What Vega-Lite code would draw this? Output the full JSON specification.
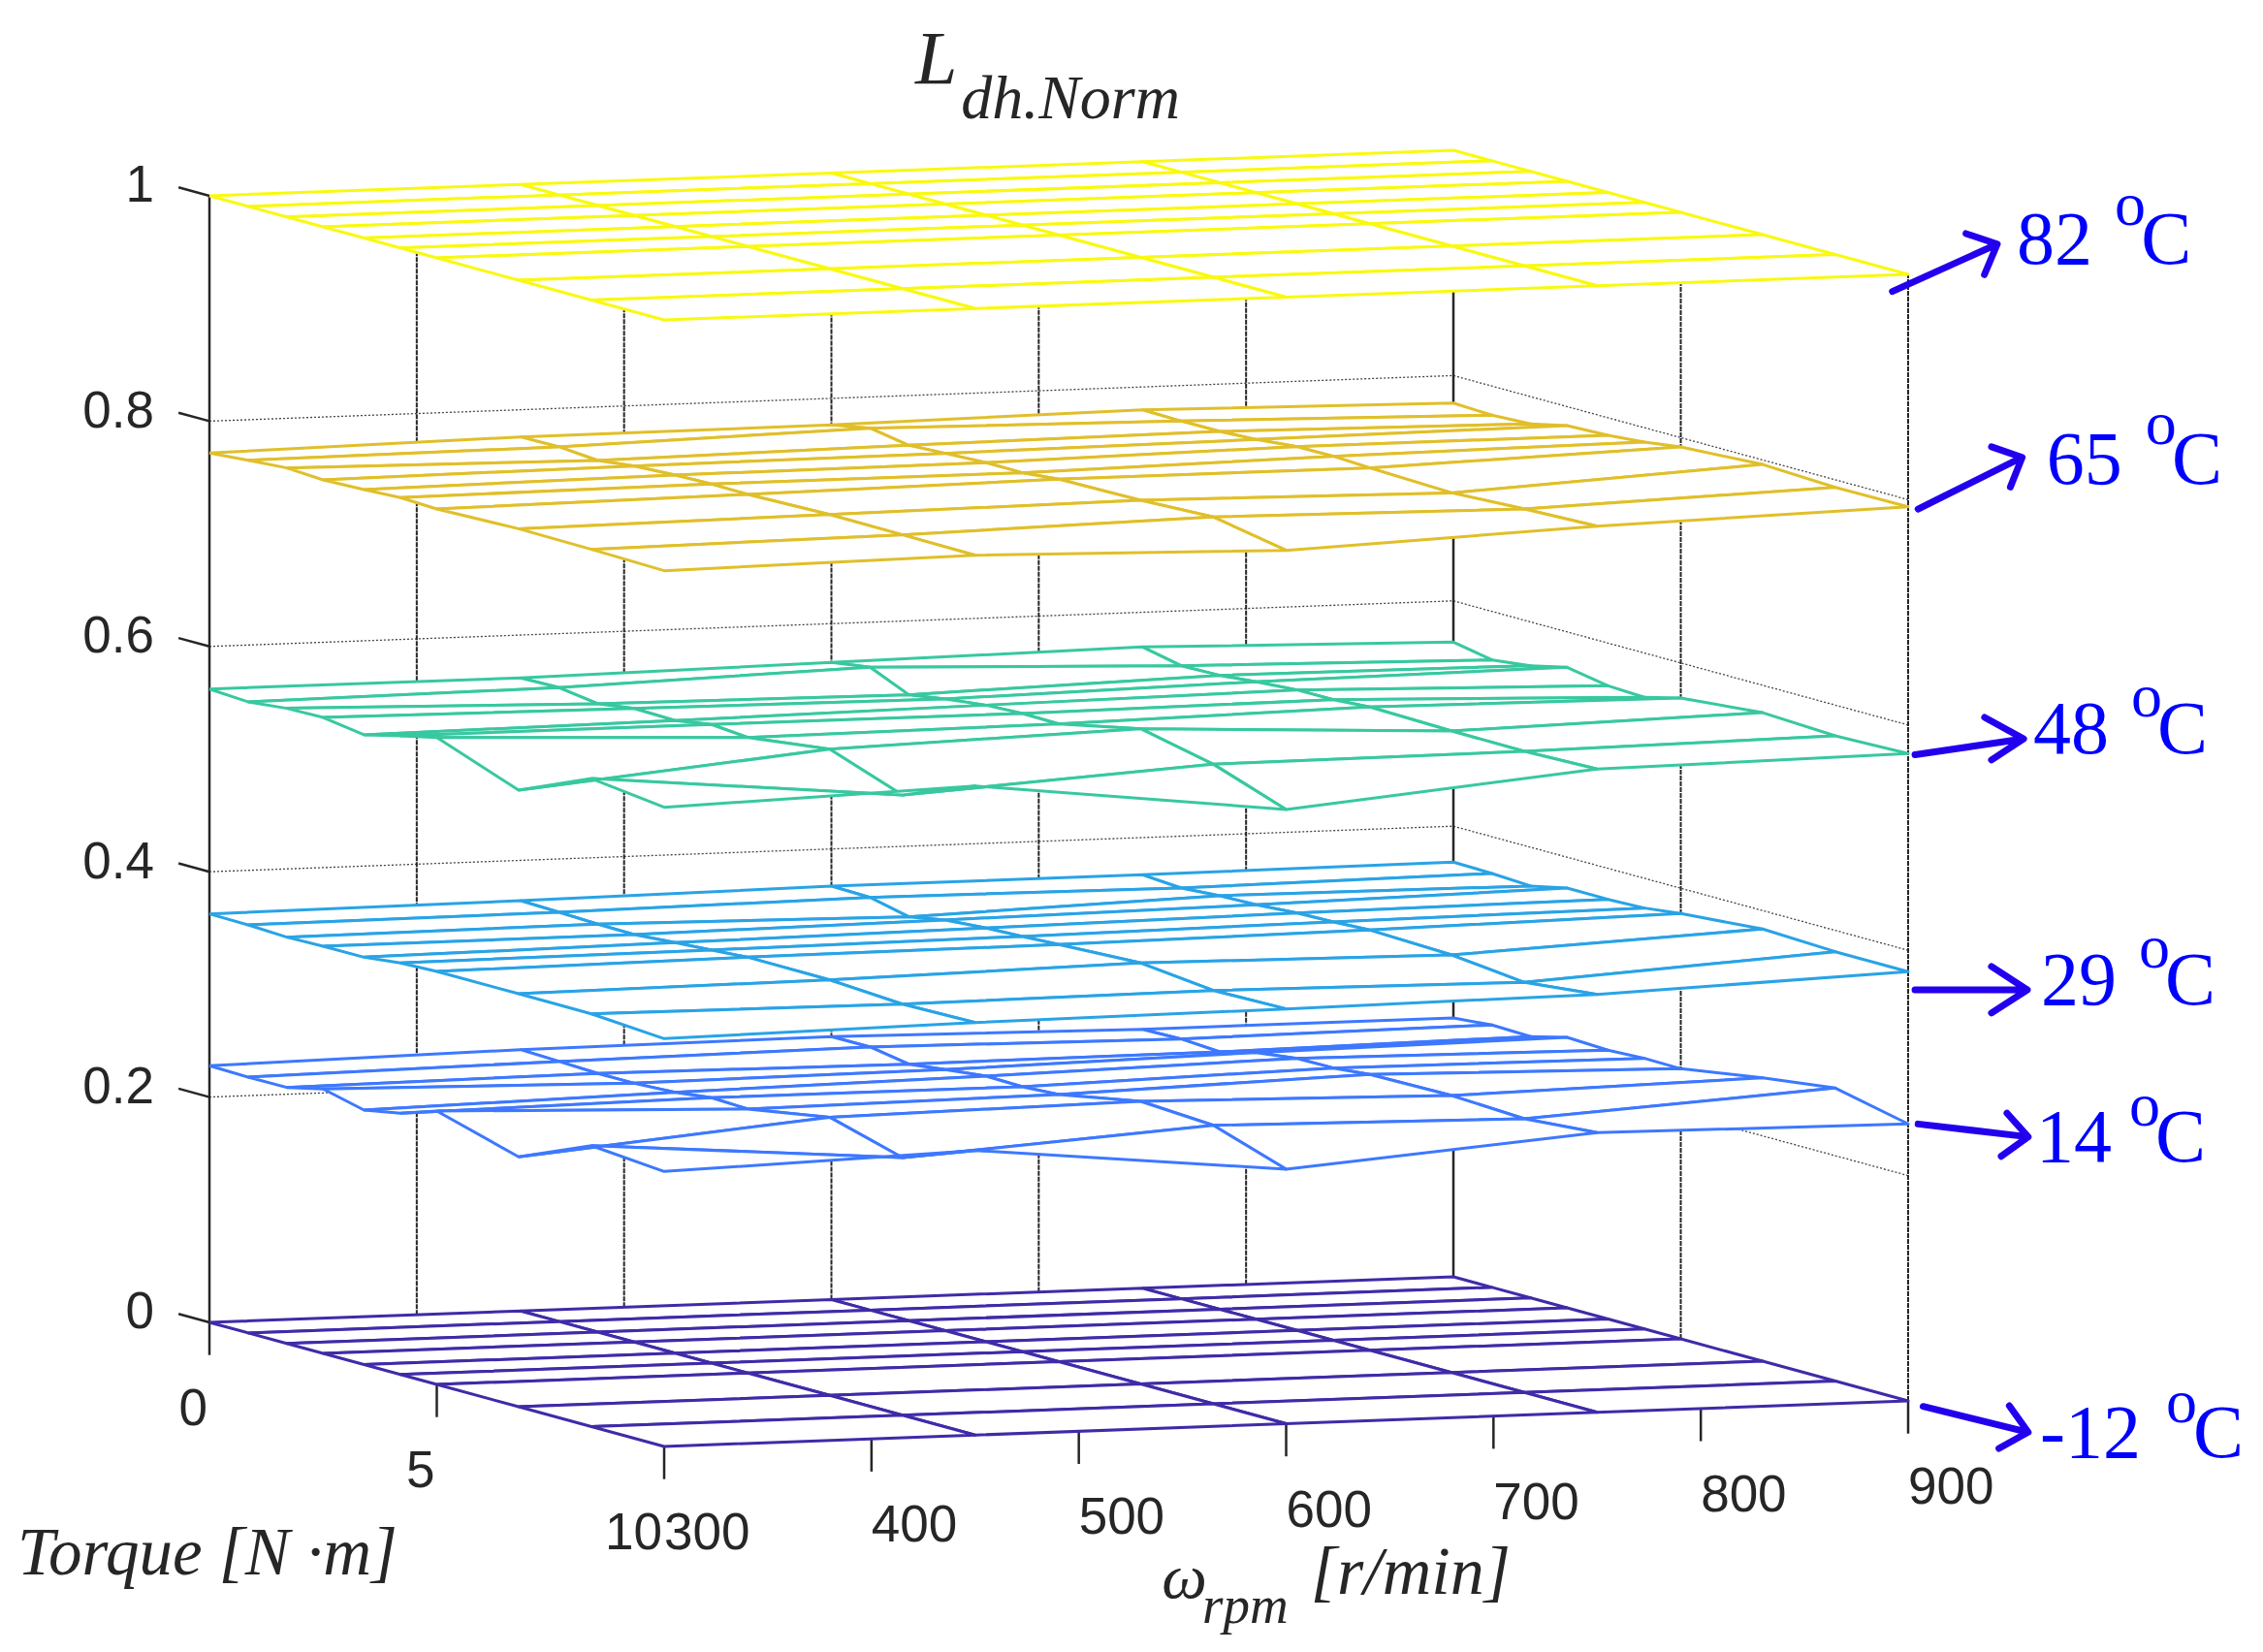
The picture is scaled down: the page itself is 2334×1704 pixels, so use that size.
{"$schema":"https://vega.github.io/schema/vega-lite/v6.json","width":2334,"height":1704,"padding":0,"autosize":{"type":"fit","contains":"padding"},"background":"white","view":{"stroke":null},
"data":{"values":[
{"kind":"mesh","temp":-12,"rpm":900,"torque":0,"L":0},{"kind":"mesh","temp":-12,"rpm":750,"torque":0,"L":0},{"kind":"mesh","temp":-12,"rpm":600,"torque":0,"L":0},{"kind":"mesh","temp":-12,"rpm":450,"torque":0,"L":0},{"kind":"mesh","temp":-12,"rpm":300,"torque":0,"L":0},
{"kind":"mesh","temp":-12,"rpm":900,"torque":0.85,"L":0},{"kind":"mesh","temp":-12,"rpm":750,"torque":0.85,"L":0},{"kind":"mesh","temp":-12,"rpm":600,"torque":0.85,"L":0},{"kind":"mesh","temp":-12,"rpm":450,"torque":0.85,"L":0},{"kind":"mesh","temp":-12,"rpm":300,"torque":0.85,"L":0},
{"kind":"mesh","temp":-12,"rpm":900,"torque":1.7,"L":0},{"kind":"mesh","temp":-12,"rpm":750,"torque":1.7,"L":0},{"kind":"mesh","temp":-12,"rpm":600,"torque":1.7,"L":0},{"kind":"mesh","temp":-12,"rpm":450,"torque":1.7,"L":0},{"kind":"mesh","temp":-12,"rpm":300,"torque":1.7,"L":0},
{"kind":"mesh","temp":-12,"rpm":900,"torque":2.5,"L":0},{"kind":"mesh","temp":-12,"rpm":750,"torque":2.5,"L":0},{"kind":"mesh","temp":-12,"rpm":600,"torque":2.5,"L":0},{"kind":"mesh","temp":-12,"rpm":450,"torque":2.5,"L":0},{"kind":"mesh","temp":-12,"rpm":300,"torque":2.5,"L":0},
{"kind":"mesh","temp":-12,"rpm":900,"torque":3.4,"L":0},{"kind":"mesh","temp":-12,"rpm":750,"torque":3.4,"L":0},{"kind":"mesh","temp":-12,"rpm":600,"torque":3.4,"L":0},{"kind":"mesh","temp":-12,"rpm":450,"torque":3.4,"L":0},{"kind":"mesh","temp":-12,"rpm":300,"torque":3.4,"L":0},
{"kind":"mesh","temp":-12,"rpm":900,"torque":4.2,"L":0},{"kind":"mesh","temp":-12,"rpm":750,"torque":4.2,"L":0},{"kind":"mesh","temp":-12,"rpm":600,"torque":4.2,"L":0},{"kind":"mesh","temp":-12,"rpm":450,"torque":4.2,"L":0},{"kind":"mesh","temp":-12,"rpm":300,"torque":4.2,"L":0},
{"kind":"mesh","temp":-12,"rpm":900,"torque":5,"L":0},{"kind":"mesh","temp":-12,"rpm":750,"torque":5,"L":0},{"kind":"mesh","temp":-12,"rpm":600,"torque":5,"L":0},{"kind":"mesh","temp":-12,"rpm":450,"torque":5,"L":0},{"kind":"mesh","temp":-12,"rpm":300,"torque":5,"L":0},
{"kind":"mesh","temp":-12,"rpm":900,"torque":6.8,"L":0},{"kind":"mesh","temp":-12,"rpm":750,"torque":6.8,"L":0},{"kind":"mesh","temp":-12,"rpm":600,"torque":6.8,"L":0},{"kind":"mesh","temp":-12,"rpm":450,"torque":6.8,"L":0},{"kind":"mesh","temp":-12,"rpm":300,"torque":6.8,"L":0},
{"kind":"mesh","temp":-12,"rpm":900,"torque":8.4,"L":0},{"kind":"mesh","temp":-12,"rpm":750,"torque":8.4,"L":0},{"kind":"mesh","temp":-12,"rpm":600,"torque":8.4,"L":0},{"kind":"mesh","temp":-12,"rpm":450,"torque":8.4,"L":0},{"kind":"mesh","temp":-12,"rpm":300,"torque":8.4,"L":0},
{"kind":"mesh","temp":-12,"rpm":900,"torque":10,"L":0},{"kind":"mesh","temp":-12,"rpm":750,"torque":10,"L":0},{"kind":"mesh","temp":-12,"rpm":600,"torque":10,"L":0},{"kind":"mesh","temp":-12,"rpm":450,"torque":10,"L":0},{"kind":"mesh","temp":-12,"rpm":300,"torque":10,"L":0},

{"kind":"mesh","temp":14,"rpm":900,"torque":0,"L":0.2298},{"kind":"mesh","temp":14,"rpm":750,"torque":0,"L":0.2298},{"kind":"mesh","temp":14,"rpm":600,"torque":0,"L":0.2334},{"kind":"mesh","temp":14,"rpm":450,"torque":0,"L":0.232},{"kind":"mesh","temp":14,"rpm":300,"torque":0,"L":0.2278},
{"kind":"mesh","temp":14,"rpm":900,"torque":0.85,"L":0.2329},{"kind":"mesh","temp":14,"rpm":750,"torque":0.85,"L":0.2306},{"kind":"mesh","temp":14,"rpm":600,"torque":0.85,"L":0.2336},{"kind":"mesh","temp":14,"rpm":450,"torque":0.85,"L":0.2308},{"kind":"mesh","temp":14,"rpm":300,"torque":0.85,"L":0.2271},
{"kind":"mesh","temp":14,"rpm":900,"torque":1.7,"L":0.2319},{"kind":"mesh","temp":14,"rpm":750,"torque":1.7,"L":0.2285},{"kind":"mesh","temp":14,"rpm":600,"torque":1.7,"L":0.2277},{"kind":"mesh","temp":14,"rpm":450,"torque":1.7,"L":0.2296},{"kind":"mesh","temp":14,"rpm":300,"torque":1.7,"L":0.2273},
{"kind":"mesh","temp":14,"rpm":900,"torque":2.5,"L":0.2401},{"kind":"mesh","temp":14,"rpm":750,"torque":2.5,"L":0.2367},{"kind":"mesh","temp":14,"rpm":600,"torque":2.5,"L":0.2317},{"kind":"mesh","temp":14,"rpm":450,"torque":2.5,"L":0.2297},{"kind":"mesh","temp":14,"rpm":300,"torque":2.5,"L":0.2347},
{"kind":"mesh","temp":14,"rpm":900,"torque":3.4,"L":0.2386},{"kind":"mesh","temp":14,"rpm":750,"torque":3.4,"L":0.2414},{"kind":"mesh","temp":14,"rpm":600,"torque":3.4,"L":0.2358},{"kind":"mesh","temp":14,"rpm":450,"torque":3.4,"L":0.2315},{"kind":"mesh","temp":14,"rpm":300,"torque":3.4,"L":0.2259},
{"kind":"mesh","temp":14,"rpm":900,"torque":4.2,"L":0.2402},{"kind":"mesh","temp":14,"rpm":750,"torque":4.2,"L":0.2417},{"kind":"mesh","temp":14,"rpm":600,"torque":4.2,"L":0.2352},{"kind":"mesh","temp":14,"rpm":450,"torque":4.2,"L":0.2356},{"kind":"mesh","temp":14,"rpm":300,"torque":4.2,"L":0.2319},
{"kind":"mesh","temp":14,"rpm":900,"torque":5,"L":0.2398},{"kind":"mesh","temp":14,"rpm":750,"torque":5,"L":0.2448},{"kind":"mesh","temp":14,"rpm":600,"torque":5,"L":0.2371},{"kind":"mesh","temp":14,"rpm":450,"torque":5,"L":0.2343},{"kind":"mesh","temp":14,"rpm":300,"torque":5,"L":0.2427},
{"kind":"mesh","temp":14,"rpm":900,"torque":6.8,"L":0.2515},{"kind":"mesh","temp":14,"rpm":750,"torque":6.8,"L":0.2459},{"kind":"mesh","temp":14,"rpm":600,"torque":6.8,"L":0.2509},{"kind":"mesh","temp":14,"rpm":450,"torque":6.8,"L":0.2469},{"kind":"mesh","temp":14,"rpm":300,"torque":6.8,"L":0.2218},
{"kind":"mesh","temp":14,"rpm":900,"torque":8.4,"L":0.2601},{"kind":"mesh","temp":14,"rpm":750,"torque":8.4,"L":0.2429},{"kind":"mesh","temp":14,"rpm":600,"torque":8.4,"L":0.2472},{"kind":"mesh","temp":14,"rpm":450,"torque":8.4,"L":0.2287},{"kind":"mesh","temp":14,"rpm":300,"torque":8.4,"L":0.2494},
{"kind":"mesh","temp":14,"rpm":900,"torque":10,"L":0.2459},{"kind":"mesh","temp":14,"rpm":750,"torque":10,"L":0.2482},{"kind":"mesh","temp":14,"rpm":600,"torque":10,"L":0.2259},{"kind":"mesh","temp":14,"rpm":450,"torque":10,"L":0.2526},{"kind":"mesh","temp":14,"rpm":300,"torque":10,"L":0.2441},

{"kind":"mesh","temp":29,"rpm":900,"torque":0,"L":0.3681},{"kind":"mesh","temp":29,"rpm":750,"torque":0,"L":0.367},{"kind":"mesh","temp":29,"rpm":600,"torque":0,"L":0.367},{"kind":"mesh","temp":29,"rpm":450,"torque":0,"L":0.3642},{"kind":"mesh","temp":29,"rpm":300,"torque":0,"L":0.3626},
{"kind":"mesh","temp":29,"rpm":900,"torque":0.85,"L":0.3674},{"kind":"mesh","temp":29,"rpm":750,"torque":0.85,"L":0.3646},{"kind":"mesh","temp":29,"rpm":600,"torque":0.85,"L":0.3663},{"kind":"mesh","temp":29,"rpm":450,"torque":0.85,"L":0.3633},{"kind":"mesh","temp":29,"rpm":300,"torque":0.85,"L":0.3622},
{"kind":"mesh","temp":29,"rpm":900,"torque":1.7,"L":0.3656},{"kind":"mesh","temp":29,"rpm":750,"torque":1.7,"L":0.3671},{"kind":"mesh","temp":29,"rpm":600,"torque":1.7,"L":0.3585},{"kind":"mesh","temp":29,"rpm":450,"torque":1.7,"L":0.3621},{"kind":"mesh","temp":29,"rpm":300,"torque":1.7,"L":0.3607},
{"kind":"mesh","temp":29,"rpm":900,"torque":2.5,"L":0.3726},{"kind":"mesh","temp":29,"rpm":750,"torque":2.5,"L":0.3679},{"kind":"mesh","temp":29,"rpm":600,"torque":2.5,"L":0.3645},{"kind":"mesh","temp":29,"rpm":450,"torque":2.5,"L":0.3617},{"kind":"mesh","temp":29,"rpm":300,"torque":2.5,"L":0.3614},
{"kind":"mesh","temp":29,"rpm":900,"torque":3.4,"L":0.3725},{"kind":"mesh","temp":29,"rpm":750,"torque":3.4,"L":0.3705},{"kind":"mesh","temp":29,"rpm":600,"torque":3.4,"L":0.3672},{"kind":"mesh","temp":29,"rpm":450,"torque":3.4,"L":0.3644},{"kind":"mesh","temp":29,"rpm":300,"torque":3.4,"L":0.3616},
{"kind":"mesh","temp":29,"rpm":900,"torque":4.2,"L":0.3736},{"kind":"mesh","temp":29,"rpm":750,"torque":4.2,"L":0.3714},{"kind":"mesh","temp":29,"rpm":600,"torque":4.2,"L":0.3686},{"kind":"mesh","temp":29,"rpm":450,"torque":4.2,"L":0.3667},{"kind":"mesh","temp":29,"rpm":300,"torque":4.2,"L":0.3653},
{"kind":"mesh","temp":29,"rpm":900,"torque":5,"L":0.3775},{"kind":"mesh","temp":29,"rpm":750,"torque":5,"L":0.373},{"kind":"mesh","temp":29,"rpm":600,"torque":5,"L":0.3702},{"kind":"mesh","temp":29,"rpm":450,"torque":5,"L":0.3691},{"kind":"mesh","temp":29,"rpm":300,"torque":5,"L":0.3666},
{"kind":"mesh","temp":29,"rpm":900,"torque":6.8,"L":0.3836},{"kind":"mesh","temp":29,"rpm":750,"torque":6.8,"L":0.3707},{"kind":"mesh","temp":29,"rpm":600,"torque":6.8,"L":0.3737},{"kind":"mesh","temp":29,"rpm":450,"torque":6.8,"L":0.3688},{"kind":"mesh","temp":29,"rpm":300,"torque":6.8,"L":0.3666},
{"kind":"mesh","temp":29,"rpm":900,"torque":8.4,"L":0.3811},{"kind":"mesh","temp":29,"rpm":750,"torque":8.4,"L":0.364},{"kind":"mesh","temp":29,"rpm":600,"torque":8.4,"L":0.3669},{"kind":"mesh","temp":29,"rpm":450,"torque":8.4,"L":0.3649},{"kind":"mesh","temp":29,"rpm":300,"torque":8.4,"L":0.3664},
{"kind":"mesh","temp":29,"rpm":900,"torque":10,"L":0.381},{"kind":"mesh","temp":29,"rpm":750,"torque":10,"L":0.371},{"kind":"mesh","temp":29,"rpm":600,"torque":10,"L":0.3682},{"kind":"mesh","temp":29,"rpm":450,"torque":10,"L":0.3662},{"kind":"mesh","temp":29,"rpm":300,"torque":10,"L":0.362},

{"kind":"mesh","temp":48,"rpm":900,"torque":0,"L":0.5634},{"kind":"mesh","temp":48,"rpm":750,"torque":0,"L":0.5692},{"kind":"mesh","temp":48,"rpm":600,"torque":0,"L":0.5656},{"kind":"mesh","temp":48,"rpm":450,"torque":0,"L":0.562},{"kind":"mesh","temp":48,"rpm":300,"torque":0,"L":0.5622},
{"kind":"mesh","temp":48,"rpm":900,"torque":0.85,"L":0.557},{"kind":"mesh","temp":48,"rpm":750,"torque":0.85,"L":0.5619},{"kind":"mesh","temp":48,"rpm":600,"torque":0.85,"L":0.5707},{"kind":"mesh","temp":48,"rpm":450,"torque":0.85,"L":0.5627},{"kind":"mesh","temp":48,"rpm":300,"torque":0.85,"L":0.5602},
{"kind":"mesh","temp":48,"rpm":900,"torque":1.7,"L":0.5612},{"kind":"mesh","temp":48,"rpm":750,"torque":1.7,"L":0.5627},{"kind":"mesh","temp":48,"rpm":600,"torque":1.7,"L":0.5556},{"kind":"mesh","temp":48,"rpm":450,"torque":1.7,"L":0.5577},{"kind":"mesh","temp":48,"rpm":300,"torque":1.7,"L":0.5638},
{"kind":"mesh","temp":48,"rpm":900,"torque":2.5,"L":0.5686},{"kind":"mesh","temp":48,"rpm":750,"torque":2.5,"L":0.5658},{"kind":"mesh","temp":48,"rpm":600,"torque":2.5,"L":0.5607},{"kind":"mesh","temp":48,"rpm":450,"torque":2.5,"L":0.5624},{"kind":"mesh","temp":48,"rpm":300,"torque":2.5,"L":0.5645},
{"kind":"mesh","temp":48,"rpm":900,"torque":3.4,"L":0.5621},{"kind":"mesh","temp":48,"rpm":750,"torque":3.4,"L":0.5685},{"kind":"mesh","temp":48,"rpm":600,"torque":3.4,"L":0.5651},{"kind":"mesh","temp":48,"rpm":450,"torque":3.4,"L":0.5615},{"kind":"mesh","temp":48,"rpm":300,"torque":3.4,"L":0.559},
{"kind":"mesh","temp":48,"rpm":900,"torque":4.2,"L":0.5607},{"kind":"mesh","temp":48,"rpm":750,"torque":4.2,"L":0.5687},{"kind":"mesh","temp":48,"rpm":600,"torque":4.2,"L":0.5665},{"kind":"mesh","temp":48,"rpm":450,"torque":4.2,"L":0.5669},{"kind":"mesh","temp":48,"rpm":300,"torque":4.2,"L":0.567},
{"kind":"mesh","temp":48,"rpm":900,"torque":5,"L":0.5688},{"kind":"mesh","temp":48,"rpm":750,"torque":5,"L":0.571},{"kind":"mesh","temp":48,"rpm":600,"torque":5,"L":0.5661},{"kind":"mesh","temp":48,"rpm":450,"torque":5,"L":0.5642},{"kind":"mesh","temp":48,"rpm":300,"torque":5,"L":0.5743},
{"kind":"mesh","temp":48,"rpm":900,"torque":6.8,"L":0.5757},{"kind":"mesh","temp":48,"rpm":750,"torque":6.8,"L":0.5695},{"kind":"mesh","temp":48,"rpm":600,"torque":6.8,"L":0.5816},{"kind":"mesh","temp":48,"rpm":450,"torque":6.8,"L":0.5736},{"kind":"mesh","temp":48,"rpm":300,"torque":6.8,"L":0.5473},
{"kind":"mesh","temp":48,"rpm":900,"torque":8.4,"L":0.5727},{"kind":"mesh","temp":48,"rpm":750,"torque":8.4,"L":0.5691},{"kind":"mesh","temp":48,"rpm":600,"torque":8.4,"L":0.5677},{"kind":"mesh","temp":48,"rpm":450,"torque":8.4,"L":0.5506},{"kind":"mesh","temp":48,"rpm":300,"torque":8.4,"L":0.5753},
{"kind":"mesh","temp":48,"rpm":900,"torque":10,"L":0.5746},{"kind":"mesh","temp":48,"rpm":750,"torque":10,"L":0.571},{"kind":"mesh","temp":48,"rpm":600,"torque":10,"L":0.5452},{"kind":"mesh","temp":48,"rpm":450,"torque":10,"L":0.5762},{"kind":"mesh","temp":48,"rpm":300,"torque":10,"L":0.5674},

{"kind":"mesh","temp":65,"rpm":900,"torque":0,"L":0.7756},{"kind":"mesh","temp":65,"rpm":750,"torque":0,"L":0.7797},{"kind":"mesh","temp":65,"rpm":600,"torque":0,"L":0.7764},{"kind":"mesh","temp":65,"rpm":450,"torque":0,"L":0.7759},{"kind":"mesh","temp":65,"rpm":300,"torque":0,"L":0.7717},
{"kind":"mesh","temp":65,"rpm":900,"torque":0.85,"L":0.7742},{"kind":"mesh","temp":65,"rpm":750,"torque":0.85,"L":0.7791},{"kind":"mesh","temp":65,"rpm":600,"torque":0.85,"L":0.7829},{"kind":"mesh","temp":65,"rpm":450,"torque":0.85,"L":0.7764},{"kind":"mesh","temp":65,"rpm":300,"torque":0.85,"L":0.7747},
{"kind":"mesh","temp":65,"rpm":900,"torque":1.7,"L":0.7758},{"kind":"mesh","temp":65,"rpm":750,"torque":1.7,"L":0.7793},{"kind":"mesh","temp":65,"rpm":600,"torque":1.7,"L":0.7771},{"kind":"mesh","temp":65,"rpm":450,"torque":1.7,"L":0.7737},{"kind":"mesh","temp":65,"rpm":300,"torque":1.7,"L":0.7772},
{"kind":"mesh","temp":65,"rpm":900,"torque":2.5,"L":0.7831},{"kind":"mesh","temp":65,"rpm":750,"torque":2.5,"L":0.7809},{"kind":"mesh","temp":65,"rpm":600,"torque":2.5,"L":0.7787},{"kind":"mesh","temp":65,"rpm":450,"torque":2.5,"L":0.7776},{"kind":"mesh","temp":65,"rpm":300,"torque":2.5,"L":0.7754},
{"kind":"mesh","temp":65,"rpm":900,"torque":3.4,"L":0.7844},{"kind":"mesh","temp":65,"rpm":750,"torque":3.4,"L":0.7845},{"kind":"mesh","temp":65,"rpm":600,"torque":3.4,"L":0.7803},{"kind":"mesh","temp":65,"rpm":450,"torque":3.4,"L":0.7795},{"kind":"mesh","temp":65,"rpm":300,"torque":3.4,"L":0.7767},
{"kind":"mesh","temp":65,"rpm":900,"torque":4.2,"L":0.7873},{"kind":"mesh","temp":65,"rpm":750,"torque":4.2,"L":0.7847},{"kind":"mesh","temp":65,"rpm":600,"torque":4.2,"L":0.7802},{"kind":"mesh","temp":65,"rpm":450,"torque":4.2,"L":0.7803},{"kind":"mesh","temp":65,"rpm":300,"torque":4.2,"L":0.7784},
{"kind":"mesh","temp":65,"rpm":900,"torque":5,"L":0.7917},{"kind":"mesh","temp":65,"rpm":750,"torque":5,"L":0.7832},{"kind":"mesh","temp":65,"rpm":600,"torque":5,"L":0.7833},{"kind":"mesh","temp":65,"rpm":450,"torque":5,"L":0.7799},{"kind":"mesh","temp":65,"rpm":300,"torque":5,"L":0.7771},
{"kind":"mesh","temp":65,"rpm":900,"torque":6.8,"L":0.796},{"kind":"mesh","temp":65,"rpm":750,"torque":6.8,"L":0.7809},{"kind":"mesh","temp":65,"rpm":600,"torque":6.8,"L":0.7844},{"kind":"mesh","temp":65,"rpm":450,"torque":6.8,"L":0.7819},{"kind":"mesh","temp":65,"rpm":300,"torque":6.8,"L":0.7794},
{"kind":"mesh","temp":65,"rpm":900,"torque":8.4,"L":0.7933},{"kind":"mesh","temp":65,"rpm":750,"torque":8.4,"L":0.7842},{"kind":"mesh","temp":65,"rpm":600,"torque":8.4,"L":0.7872},{"kind":"mesh","temp":65,"rpm":450,"torque":8.4,"L":0.7815},{"kind":"mesh","temp":65,"rpm":300,"torque":8.4,"L":0.7787},
{"kind":"mesh","temp":65,"rpm":900,"torque":10,"L":0.7937},{"kind":"mesh","temp":65,"rpm":750,"torque":10,"L":0.7866},{"kind":"mesh","temp":65,"rpm":600,"torque":10,"L":0.7752},{"kind":"mesh","temp":65,"rpm":450,"torque":10,"L":0.781},{"kind":"mesh","temp":65,"rpm":300,"torque":10,"L":0.7774},

{"kind":"mesh","temp":82,"rpm":900,"torque":0,"L":1},{"kind":"mesh","temp":82,"rpm":750,"torque":0,"L":1},{"kind":"mesh","temp":82,"rpm":600,"torque":0,"L":1},{"kind":"mesh","temp":82,"rpm":450,"torque":0,"L":1},{"kind":"mesh","temp":82,"rpm":300,"torque":0,"L":1},
{"kind":"mesh","temp":82,"rpm":900,"torque":0.85,"L":1},{"kind":"mesh","temp":82,"rpm":750,"torque":0.85,"L":1},{"kind":"mesh","temp":82,"rpm":600,"torque":0.85,"L":1},{"kind":"mesh","temp":82,"rpm":450,"torque":0.85,"L":1},{"kind":"mesh","temp":82,"rpm":300,"torque":0.85,"L":1},
{"kind":"mesh","temp":82,"rpm":900,"torque":1.7,"L":1},{"kind":"mesh","temp":82,"rpm":750,"torque":1.7,"L":1},{"kind":"mesh","temp":82,"rpm":600,"torque":1.7,"L":1},{"kind":"mesh","temp":82,"rpm":450,"torque":1.7,"L":1},{"kind":"mesh","temp":82,"rpm":300,"torque":1.7,"L":1},
{"kind":"mesh","temp":82,"rpm":900,"torque":2.5,"L":1},{"kind":"mesh","temp":82,"rpm":750,"torque":2.5,"L":1},{"kind":"mesh","temp":82,"rpm":600,"torque":2.5,"L":1},{"kind":"mesh","temp":82,"rpm":450,"torque":2.5,"L":1},{"kind":"mesh","temp":82,"rpm":300,"torque":2.5,"L":1},
{"kind":"mesh","temp":82,"rpm":900,"torque":3.4,"L":1},{"kind":"mesh","temp":82,"rpm":750,"torque":3.4,"L":1},{"kind":"mesh","temp":82,"rpm":600,"torque":3.4,"L":1},{"kind":"mesh","temp":82,"rpm":450,"torque":3.4,"L":1},{"kind":"mesh","temp":82,"rpm":300,"torque":3.4,"L":1},
{"kind":"mesh","temp":82,"rpm":900,"torque":4.2,"L":1},{"kind":"mesh","temp":82,"rpm":750,"torque":4.2,"L":1},{"kind":"mesh","temp":82,"rpm":600,"torque":4.2,"L":1},{"kind":"mesh","temp":82,"rpm":450,"torque":4.2,"L":1},{"kind":"mesh","temp":82,"rpm":300,"torque":4.2,"L":1},
{"kind":"mesh","temp":82,"rpm":900,"torque":5,"L":1},{"kind":"mesh","temp":82,"rpm":750,"torque":5,"L":1},{"kind":"mesh","temp":82,"rpm":600,"torque":5,"L":1},{"kind":"mesh","temp":82,"rpm":450,"torque":5,"L":1},{"kind":"mesh","temp":82,"rpm":300,"torque":5,"L":1},
{"kind":"mesh","temp":82,"rpm":900,"torque":6.8,"L":1},{"kind":"mesh","temp":82,"rpm":750,"torque":6.8,"L":1},{"kind":"mesh","temp":82,"rpm":600,"torque":6.8,"L":1},{"kind":"mesh","temp":82,"rpm":450,"torque":6.8,"L":1},{"kind":"mesh","temp":82,"rpm":300,"torque":6.8,"L":1},
{"kind":"mesh","temp":82,"rpm":900,"torque":8.4,"L":1},{"kind":"mesh","temp":82,"rpm":750,"torque":8.4,"L":1},{"kind":"mesh","temp":82,"rpm":600,"torque":8.4,"L":1},{"kind":"mesh","temp":82,"rpm":450,"torque":8.4,"L":1},{"kind":"mesh","temp":82,"rpm":300,"torque":8.4,"L":1},
{"kind":"mesh","temp":82,"rpm":900,"torque":10,"L":1},{"kind":"mesh","temp":82,"rpm":750,"torque":10,"L":1},{"kind":"mesh","temp":82,"rpm":600,"torque":10,"L":1},{"kind":"mesh","temp":82,"rpm":450,"torque":10,"L":1},{"kind":"mesh","temp":82,"rpm":300,"torque":10,"L":1},

{"kind":"solid","line":"v300","rpm":300,"torque":0,"L":0},{"kind":"solid","line":"v300","rpm":300,"torque":0,"L":1},
{"kind":"solid","line":"v900","rpm":900,"torque":0,"L":0},{"kind":"solid","line":"v900","rpm":900,"torque":0,"L":1},
{"kind":"dash","line":"v400","rpm":400,"torque":0,"L":0},{"kind":"dash","line":"v400","rpm":400,"torque":0,"L":1},
{"kind":"dash","line":"v500","rpm":500,"torque":0,"L":0},{"kind":"dash","line":"v500","rpm":500,"torque":0,"L":1},
{"kind":"dash","line":"v600","rpm":600,"torque":0,"L":0},{"kind":"dash","line":"v600","rpm":600,"torque":0,"L":1},
{"kind":"dash","line":"v700","rpm":700,"torque":0,"L":0},{"kind":"dash","line":"v700","rpm":700,"torque":0,"L":1},
{"kind":"dash","line":"v800","rpm":800,"torque":0,"L":0},{"kind":"dash","line":"v800","rpm":800,"torque":0,"L":1},
{"kind":"dash","line":"t5","rpm":900,"torque":5,"L":0},{"kind":"dash","line":"t5","rpm":900,"torque":5,"L":1},
{"kind":"dash","line":"t10","rpm":900,"torque":10,"L":0},{"kind":"dash","line":"t10","rpm":900,"torque":10,"L":1},
{"kind":"dot","line":"h2","rpm":300,"torque":0,"L":0.2},{"kind":"dot","line":"h2","rpm":900,"torque":0,"L":0.2},{"kind":"dot","line":"h2","rpm":900,"torque":10,"L":0.2},
{"kind":"dot","line":"h4","rpm":300,"torque":0,"L":0.4},{"kind":"dot","line":"h4","rpm":900,"torque":0,"L":0.4},{"kind":"dot","line":"h4","rpm":900,"torque":10,"L":0.4},
{"kind":"dot","line":"h6","rpm":300,"torque":0,"L":0.6},{"kind":"dot","line":"h6","rpm":900,"torque":0,"L":0.6},{"kind":"dot","line":"h6","rpm":900,"torque":10,"L":0.6},
{"kind":"dot","line":"h8","rpm":300,"torque":0,"L":0.8},{"kind":"dot","line":"h8","rpm":900,"torque":0,"L":0.8},{"kind":"dot","line":"h8","rpm":900,"torque":10,"L":0.8},

{"kind":"tick","line":"z0","rpm":300,"torque":-0.68,"L":0},{"kind":"tick","line":"z0","rpm":300,"torque":0,"L":0},
{"kind":"tick","line":"z2","rpm":300,"torque":-0.68,"L":0.2},{"kind":"tick","line":"z2","rpm":300,"torque":0,"L":0.2},
{"kind":"tick","line":"z4","rpm":300,"torque":-0.68,"L":0.4},{"kind":"tick","line":"z4","rpm":300,"torque":0,"L":0.4},
{"kind":"tick","line":"z6","rpm":300,"torque":-0.68,"L":0.6},{"kind":"tick","line":"z6","rpm":300,"torque":0,"L":0.6},
{"kind":"tick","line":"z8","rpm":300,"torque":-0.68,"L":0.8},{"kind":"tick","line":"z8","rpm":300,"torque":0,"L":0.8},
{"kind":"tick","line":"z10","rpm":300,"torque":-0.68,"L":1},{"kind":"tick","line":"z10","rpm":300,"torque":0,"L":1},
{"kind":"tick","line":"T0","rpm":300,"torque":0,"L":0},{"kind":"tick","line":"T0","rpm":300,"torque":0,"L":-0.029},
{"kind":"tick","line":"T5","rpm":300,"torque":5,"L":0},{"kind":"tick","line":"T5","rpm":300,"torque":5,"L":-0.029},
{"kind":"tick","line":"r300","rpm":300,"torque":10,"L":0},{"kind":"tick","line":"r300","rpm":300,"torque":10,"L":-0.029},
{"kind":"tick","line":"r400","rpm":400,"torque":10,"L":0},{"kind":"tick","line":"r400","rpm":400,"torque":10,"L":-0.029},
{"kind":"tick","line":"r500","rpm":500,"torque":10,"L":0},{"kind":"tick","line":"r500","rpm":500,"torque":10,"L":-0.029},
{"kind":"tick","line":"r600","rpm":600,"torque":10,"L":0},{"kind":"tick","line":"r600","rpm":600,"torque":10,"L":-0.029},
{"kind":"tick","line":"r700","rpm":700,"torque":10,"L":0},{"kind":"tick","line":"r700","rpm":700,"torque":10,"L":-0.029},
{"kind":"tick","line":"r800","rpm":800,"torque":10,"L":0},{"kind":"tick","line":"r800","rpm":800,"torque":10,"L":-0.029},
{"kind":"tick","line":"r900","rpm":900,"torque":10,"L":0},{"kind":"tick","line":"r900","rpm":900,"torque":10,"L":-0.029},

{"kind":"zlabel","label":"1","rpm":300,"torque":-1.215,"L":1},{"kind":"zlabel","label":"0.8","rpm":300,"torque":-1.215,"L":0.8},{"kind":"zlabel","label":"0.6","rpm":300,"torque":-1.215,"L":0.6},{"kind":"zlabel","label":"0.4","rpm":300,"torque":-1.215,"L":0.4},{"kind":"zlabel","label":"0.2","rpm":300,"torque":-1.215,"L":0.2},{"kind":"zlabel","label":"0","rpm":300,"torque":-1.215,"L":0},
{"kind":"tlabel","label":"0","rpm":300,"torque":0,"L":-0.0775},{"kind":"tlabel","label":"5","rpm":300,"torque":5,"L":-0.0775},{"kind":"tlabel","label":"10","rpm":300,"torque":10,"L":-0.0775},
{"kind":"rlabel","label":"300","rpm":300,"torque":10,"L":-0.0775},{"kind":"rlabel","label":"400","rpm":400,"torque":10,"L":-0.0775},{"kind":"rlabel","label":"500","rpm":500,"torque":10,"L":-0.0775},{"kind":"rlabel","label":"600","rpm":600,"torque":10,"L":-0.0775},{"kind":"rlabel","label":"700","rpm":700,"torque":10,"L":-0.0775},{"kind":"rlabel","label":"800","rpm":800,"torque":10,"L":-0.0775},{"kind":"rlabel","label":"900","rpm":900,"torque":10,"L":-0.0775},

{"kind":"italic","role":"main","label":"L","rpm":640.5,"torque":0,"L":1.0769},
{"kind":"italic","role":"sub","label":"dh.Norm","rpm":662.5,"torque":0,"L":1.0444},
{"kind":"italic","role":"axis","label":"Torque [N ·m]","rpm":300,"torque":-4.22,"L":-0.2702},
{"kind":"italic","role":"omega","label":"ω","rpm":540,"torque":10,"L":-0.1504},
{"kind":"italic","role":"small","label":"rpm","rpm":559.6,"torque":10,"L":-0.1741},
{"kind":"italic","role":"speed","label":"[r/min]","rpm":611.8,"torque":10,"L":-0.1514},

{"kind":"temp","role":"big","label":"82","rpm":952.4,"torque":10,"L":1.0059},{"kind":"temp","role":"deg","label":"o","rpm":999.6,"torque":10,"L":1.037},{"kind":"temp","role":"big","label":"C","rpm":1012.3,"torque":10,"L":1.0019},
{"kind":"temp","role":"big","label":"65","rpm":966.8,"torque":10,"L":0.8099},{"kind":"temp","role":"deg","label":"o","rpm":1014.4,"torque":10,"L":0.8415},{"kind":"temp","role":"big","label":"C","rpm":1027.2,"torque":10,"L":0.8058},
{"kind":"temp","role":"big","label":"48","rpm":960.3,"torque":10,"L":0.5708},{"kind":"temp","role":"deg","label":"o","rpm":1007.6,"torque":10,"L":0.6003},{"kind":"temp","role":"big","label":"C","rpm":1020.2,"torque":10,"L":0.5668},
{"kind":"temp","role":"big","label":"29","rpm":964.1,"torque":10,"L":0.3477},{"kind":"temp","role":"deg","label":"o","rpm":1011.3,"torque":10,"L":0.3772},{"kind":"temp","role":"big","label":"C","rpm":1023.9,"torque":10,"L":0.3436},
{"kind":"temp","role":"big","label":"14","rpm":961.7,"torque":10,"L":0.2084},{"kind":"temp","role":"deg","label":"o","rpm":1006.6,"torque":10,"L":0.2372},{"kind":"temp","role":"big","label":"C","rpm":1019.3,"torque":10,"L":0.2046},
{"kind":"temp","role":"big","label":"-12","rpm":963.6,"torque":10,"L":-0.0542},{"kind":"temp","role":"deg","label":"o","rpm":1024.4,"torque":10,"L":-0.0274},{"kind":"temp","role":"big","label":"C","rpm":1037.5,"torque":10,"L":-0.0592},

{"kind":"arrow","line":"a82","seq":1,"rpm":892.4,"torque":10,"L":0.9853},{"kind":"arrow","line":"a82","seq":2,"rpm":943,"torque":10,"L":1.024},{"kind":"arrow","line":"a82","seq":3,"rpm":927.9,"torque":10,"L":1.0343},{"kind":"arrow","line":"a82","seq":4,"rpm":943,"torque":10,"L":1.024},{"kind":"arrow","line":"a82","seq":5,"rpm":936.8,"torque":10,"L":0.9973},
{"kind":"arrow","line":"a65","seq":1,"rpm":904.8,"torque":10,"L":0.7914},{"kind":"arrow","line":"a65","seq":2,"rpm":955,"torque":10,"L":0.8339},{"kind":"arrow","line":"a65","seq":3,"rpm":940.2,"torque":10,"L":0.8442},{"kind":"arrow","line":"a65","seq":4,"rpm":955,"torque":10,"L":0.8339},{"kind":"arrow","line":"a65","seq":5,"rpm":949.3,"torque":10,"L":0.8079},
{"kind":"arrow","line":"a48","seq":1,"rpm":903.3,"torque":10,"L":0.5733},{"kind":"arrow","line":"a48","seq":2,"rpm":955.7,"torque":10,"L":0.584},{"kind":"arrow","line":"a48","seq":3,"rpm":936.9,"torque":10,"L":0.6042},{"kind":"arrow","line":"a48","seq":4,"rpm":955.7,"torque":10,"L":0.584},{"kind":"arrow","line":"a48","seq":5,"rpm":940.2,"torque":10,"L":0.5662},
{"kind":"arrow","line":"a29","seq":1,"rpm":903.3,"torque":10,"L":0.3646},{"kind":"arrow","line":"a29","seq":2,"rpm":957.5,"torque":10,"L":0.361},{"kind":"arrow","line":"a29","seq":3,"rpm":940.2,"torque":10,"L":0.3829},{"kind":"arrow","line":"a29","seq":4,"rpm":957.5,"torque":10,"L":0.361},{"kind":"arrow","line":"a29","seq":5,"rpm":940.2,"torque":10,"L":0.3416},
{"kind":"arrow","line":"a14","seq":1,"rpm":904.8,"torque":10,"L":0.2455},{"kind":"arrow","line":"a14","seq":2,"rpm":957.9,"torque":10,"L":0.2305},{"kind":"arrow","line":"a14","seq":3,"rpm":947.7,"torque":10,"L":0.2522},{"kind":"arrow","line":"a14","seq":4,"rpm":957.9,"torque":10,"L":0.2305},{"kind":"arrow","line":"a14","seq":5,"rpm":944.9,"torque":10,"L":0.2141},
{"kind":"arrow","line":"a-12","seq":1,"rpm":907.2,"torque":10,"L":-0.0054},{"kind":"arrow","line":"a-12","seq":2,"rpm":957.9,"torque":10,"L":-0.0317},{"kind":"arrow","line":"a-12","seq":3,"rpm":948.8,"torque":10,"L":-0.0076},{"kind":"arrow","line":"a-12","seq":4,"rpm":957.9,"torque":10,"L":-0.0317},{"kind":"arrow","line":"a-12","seq":5,"rpm":943.8,"torque":10,"L":-0.0451}
]},
"transform":[
{"calculate":"216+(datum.rpm-300)*1283/600+datum.torque*46.9","as":"px"},
{"calculate":"1364-(datum.rpm-300)*47/600+datum.torque*12.8-datum.L*1162","as":"py"}
],
"encoding":{
"x":{"field":"px","type":"quantitative","scale":{"domain":[0,2334],"nice":false,"zero":false},"axis":null},
"y":{"field":"py","type":"quantitative","scale":{"domain":[0,1704],"reverse":true,"nice":false,"zero":false},"axis":null}
},
"layer":[
{"transform":[{"filter":"datum.kind==='dot'"}],"mark":{"type":"line","stroke":"#444444","strokeWidth":1.3,"strokeDash":[2,2]},"encoding":{"detail":{"field":"line"}}},
{"transform":[{"filter":"datum.kind==='dash'"}],"mark":{"type":"line","stroke":"#262626","strokeWidth":2,"strokeDash":[5,1]},"encoding":{"detail":{"field":"line"}}},
{"transform":[{"filter":"datum.kind==='solid'||datum.kind==='tick'"}],"mark":{"type":"line","stroke":"#262626","strokeWidth":2.5},"encoding":{"detail":{"field":"line"}}},
{"transform":[
{"filter":"datum.kind==='mesh'"},
{"calculate":"(datum.rpm-300)/150","as":"ri"},
{"calculate":"indexof([0,0.85,1.7,2.5,3.4,4.2,5,6.8,8.4,10],datum.torque)","as":"tj"},
{"calculate":"[0,1,2,3,4]","as":"corner"},
{"flatten":["corner"]},
{"calculate":"datum.ri-((datum.corner==1||datum.corner==2)?1:0)","as":"ci"},
{"calculate":"datum.tj-((datum.corner==2||datum.corner==3)?1:0)","as":"cj"},
{"filter":"datum.ci>=0&&datum.ci<4&&datum.cj>=0&&datum.cj<9"},
{"calculate":"datum.temp+'/'+datum.ci+'/'+datum.cj","as":"cell"}
],
"mark":{"type":"line","fill":"white","strokeWidth":3,"strokeJoin":"round","interpolate":"linear"},
"encoding":{"detail":{"field":"cell"},"order":{"field":"corner","type":"quantitative"},
"color":{"field":"temp","type":"ordinal","scale":{"domain":[-12,14,29,48,65,82],"range":["#3F2BA8","#3D78FF","#29A3E6","#38C8A0","#E0BF2A","#F9F910"]},"legend":null}}},
{"transform":[{"filter":"datum.kind==='arrow'"}],"mark":{"type":"line","stroke":"#2200EE","strokeWidth":7,"strokeCap":"round","strokeJoin":"round"},"encoding":{"detail":{"field":"line"},"order":{"field":"seq","type":"quantitative"}}},
{"transform":[{"filter":"datum.kind==='zlabel'"}],"mark":{"type":"text","font":"Liberation Sans","fontSize":53,"align":"right","baseline":"middle","dy":6,"color":"#262626"},"encoding":{"text":{"field":"label"}}},
{"transform":[{"filter":"datum.kind==='tlabel'"}],"mark":{"type":"text","font":"Liberation Sans","fontSize":53,"align":"right","baseline":"middle","dx":-2,"color":"#262626"},"encoding":{"text":{"field":"label"}}},
{"transform":[{"filter":"datum.kind==='rlabel'"}],"mark":{"type":"text","font":"Liberation Sans","fontSize":53,"align":"left","baseline":"middle","color":"#262626"},"encoding":{"text":{"field":"label"}}},
{"transform":[{"filter":"datum.kind==='italic'"}],"mark":{"type":"text","font":"Liberation Serif","fontStyle":"italic","align":"left","baseline":"alphabetic","color":"#262626"},"encoding":{"text":{"field":"label"},"size":{"field":"role","type":"nominal","scale":{"type":"ordinal","domain":["main","sub","axis","speed","omega","small"],"range":[78,64,69,70,66,55]},"legend":null}}},
{"transform":[{"filter":"datum.kind==='temp'"}],"mark":{"type":"text","font":"Liberation Serif","align":"left","baseline":"alphabetic","color":"#0000FF"},"encoding":{"text":{"field":"label"},"size":{"field":"role","type":"nominal","scale":{"type":"ordinal","domain":["big","deg"],"range":[81,55]},"legend":null}}}
]}
